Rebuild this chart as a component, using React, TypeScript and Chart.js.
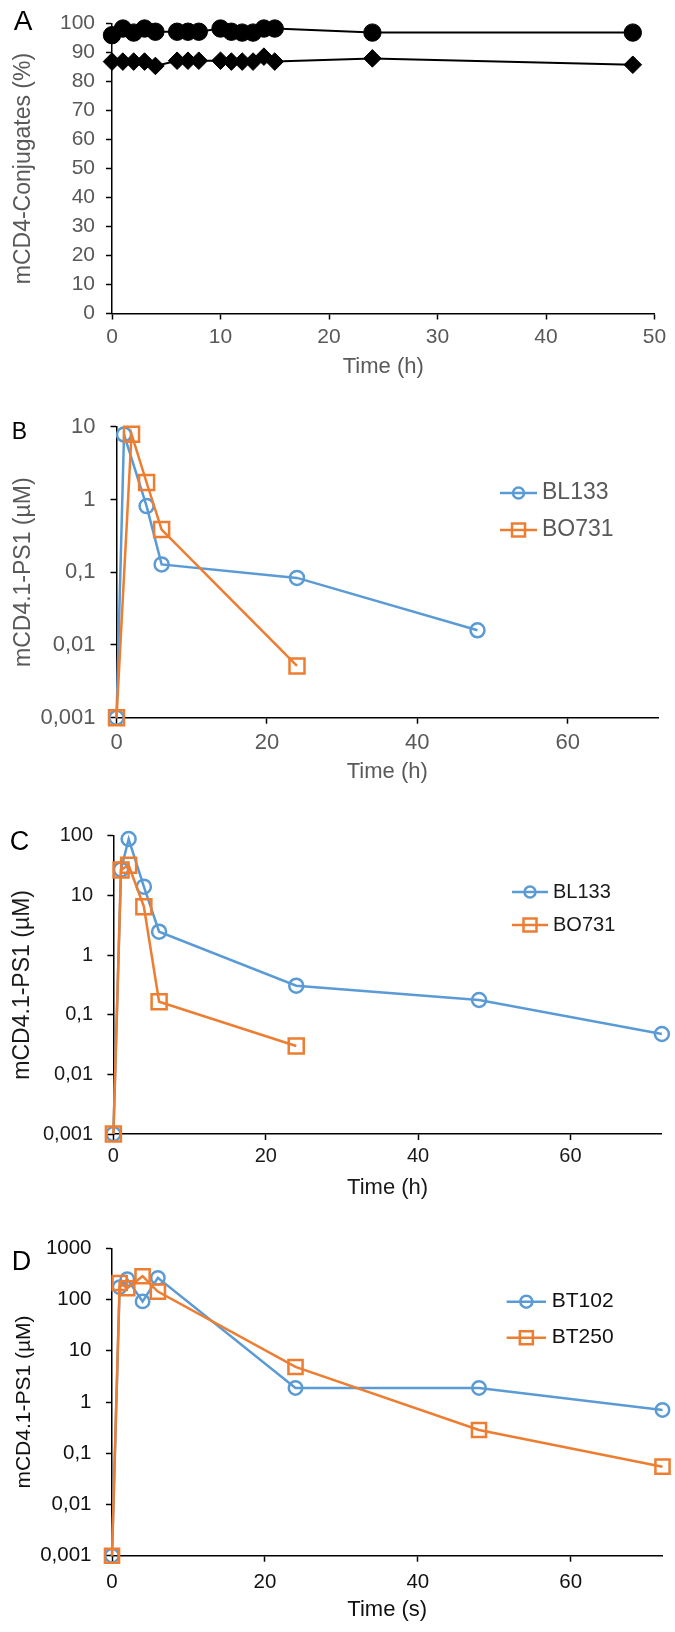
import React, { useEffect, useRef } from "react";
import { Chart, registerables } from "chart.js";

Chart.register(...registerables);

const SANS = "'Liberation Sans', Arial, Helvetica, sans-serif";
const NARROW = "'Liberation Sans Narrow', 'Arial Narrow', 'Liberation Sans', Arial, sans-serif";
const BLUE = "#5B9BD5";
const ORANGE = "#ED7D31";
const GRAY = "#595959";
const DARK = "#1a1a1a";

// ---------- Panel A ----------
const A_TIME = [0, 1, 2, 3, 4, 6, 7, 8, 10, 11, 12, 13, 14, 15, 24, 48];
const A_CIRCLES = [96.0, 98.3, 96.9, 98.3, 97.2, 97.2, 97.2, 97.2, 98.3, 97.2, 96.9, 96.9, 98.3, 98.3, 96.9, 96.9];
const A_DIAMONDS = [86.9, 86.9, 86.9, 86.9, 85.4, 87.2, 87.2, 87.2, 87.2, 86.9, 86.9, 86.9, 88.6, 86.9, 88.0, 85.8];
const A_X_TICKS = [0, 10, 20, 30, 40, 50];
const A_Y_TICKS = [0, 10, 20, 30, 40, 50, 60, 70, 80, 90, 100];
const A_Y_LABELS = ["0", "10", "20", "30", "40", "50", "60", "70", "80", "90", "100"];

// ---------- Panel B ----------
const B_BL133_TIME = [0, 1, 4, 6, 24, 48];
const B_BL133 = [0.001, 7.8, 0.81, 0.128, 0.0835, 0.0159];
const B_BO731_TIME = [0, 2, 4, 6, 24];
const B_BO731 = [0.001, 7.9, 1.71, 0.386, 0.00514];
const B_Y_TICKS = [0.001, 0.01, 0.1, 1, 10];
const B_Y_LABELS = ["0,001", "0,01", "0,1", "1", "10"];

// ---------- Panel C ----------
const C_BL133_TIME = [0, 1, 2, 4, 6, 24, 48, 72];
const C_BL133 = [0.001, 27, 88, 14, 2.46, 0.306, 0.176, 0.0474];
const C_BO731_TIME = [0, 1, 2, 4, 6, 24];
const C_BO731 = [0.001, 26.6, 32, 6.46, 0.165, 0.0299];
const C_Y_TICKS = [0.001, 0.01, 0.1, 1, 10, 100];
const C_Y_LABELS = ["0,001", "0,01", "0,1", "1", "10", "100"];

// ---------- Panel D ----------
const D_TIME = [0, 1, 2, 4, 6, 24, 48, 72];
const D_BT102 = [0.001, 175, 250, 92, 265, 1.88, 1.88, 0.7];
const D_BT250 = [0.001, 210, 166, 285, 143, 4.83, 0.284, 0.0547];
const D_Y_TICKS = [0.001, 0.01, 0.1, 1, 10, 100, 1000];
const D_Y_LABELS = ["0,001", "0,01", "0,1", "1", "10", "100", "1000"];

const TIME_TICKS = [0, 20, 40, 60];
const TIME_LABELS = ["0", "20", "40", "60"];

const pts = (xs: number[], ys: number[]) => xs.map((x, i) => ({ x, y: ys[i] }));

type Spec = {
  top: number;
  height: number;
  left: number;
  right: number;
  plotTop: number;
  plotBottom: number;
  xMax: number;
  xTicks: number[];
  xLabels: string[];
  xTitle: string;
  xTitleY: number;
  yType: "linear" | "logarithmic";
  yMin: number;
  yMax: number;
  yTicks: number[];
  yLabels: string[];
  yTitle: string;
  yTitleX: number;
  tickFamily: string;
  tickSize: number;
  tickColor: string;
  xTickPad: number;
  yTickPad: number;
  titleSize: number;
  yTitleSize: number;
  titleColor: string;
  letter: { text: string; x: number; y: number; size: number };
  legend?: { x1: number; x2: number; tx: number; y: number[]; size: number; color: string; circle: number; square: number };
  datasets: any[];
};

function lineSet(label: string, data: any[], color: string, style: string, radius: number, order: number) {
  return {
    label,
    data,
    borderColor: color,
    borderWidth: 2.5,
    pointStyle: style,
    pointRadius: radius,
    pointBorderColor: color,
    pointBackgroundColor: "rgba(255,255,255,0)",
    pointBorderWidth: 2.5,
    tension: 0,
    clip: false,
    order,
  };
}

const SPECS: Spec[] = [
  {
    top: 0, height: 390, left: 112, right: 654.5, plotTop: 15.5, plotBottom: 313.5,
    xMax: 50, xTicks: A_X_TICKS, xLabels: A_X_TICKS.map(String), xTitle: "Time (h)", xTitleY: 366.7,
    yType: "linear", yMin: 0, yMax: 100, yTicks: A_Y_TICKS, yLabels: A_Y_LABELS,
    yTitle: "mCD4-Conjugates (%)", yTitleX: 24,
    tickFamily: NARROW, tickSize: 21, tickColor: GRAY, xTickPad: 5, yTickPad: 11,
    titleSize: 22, yTitleSize: 23, titleColor: GRAY,
    letter: { text: "A", x: 23, y: 22, size: 28 },
    datasets: [
      {
        label: "Conjugate 1", data: pts(A_TIME, A_CIRCLES), borderColor: "#000", borderWidth: 2,
        pointStyle: "circle", pointRadius: 8.7, pointBackgroundColor: "#000", pointBorderColor: "#000",
        pointBorderWidth: 1, tension: 0, clip: false,
      },
      {
        label: "Conjugate 2", data: pts(A_TIME, A_DIAMONDS), borderColor: "#000", borderWidth: 2,
        pointStyle: "rectRot", pointRadius: 8.8, pointBackgroundColor: "#000", pointBorderColor: "#000",
        pointBorderWidth: 1, tension: 0, clip: false,
      },
    ],
  },
  {
    top: 390, height: 410, left: 116.5, right: 658, plotTop: 426.7, plotBottom: 717.7,
    xMax: 72, xTicks: TIME_TICKS, xLabels: TIME_LABELS, xTitle: "Time (h)", xTitleY: 772,
    yType: "logarithmic", yMin: 0.001, yMax: 10, yTicks: B_Y_TICKS, yLabels: B_Y_LABELS,
    yTitle: "mCD4.1-PS1 (µM)", yTitleX: 24,
    tickFamily: SANS, tickSize: 22, tickColor: GRAY, xTickPad: 6, yTickPad: 15,
    titleSize: 22, yTitleSize: 23, titleColor: GRAY,
    letter: { text: "B", x: 19.5, y: 433, size: 23 },
    legend: { x1: 500, x2: 537, tx: 542, y: [493, 530], size: 23, color: GRAY, circle: 5.5, square: 13 },
    datasets: [
      lineSet("BL133", pts(B_BL133_TIME, B_BL133), BLUE, "circle", 7, 1),
      lineSet("BO731", pts(B_BO731_TIME, B_BO731), ORANGE, "rect", 10.6, 0),
    ],
  },
  {
    top: 800, height: 410, left: 113.4, right: 664.5, plotTop: 835.7, plotBottom: 1134,
    xMax: 72, xTicks: TIME_TICKS, xLabels: TIME_LABELS, xTitle: "Time (h)", xTitleY: 1188,
    yType: "logarithmic", yMin: 0.001, yMax: 100, yTicks: C_Y_TICKS, yLabels: C_Y_LABELS,
    yTitle: "mCD4.1-PS1 (µM)", yTitleX: 22.7,
    tickFamily: SANS, tickSize: 20, tickColor: DARK, xTickPad: 4.7, yTickPad: 14.4,
    titleSize: 22, yTitleSize: 23, titleColor: DARK,
    letter: { text: "C", x: 19.5, y: 843, size: 27 },
    legend: { x1: 512, x2: 548, tx: 553, y: [892, 925], size: 20, color: DARK, circle: 5.5, square: 13 },
    datasets: [
      lineSet("BL133", pts(C_BL133_TIME, C_BL133), BLUE, "circle", 7, 1),
      lineSet("BO731", pts(C_BO731_TIME, C_BO731), ORANGE, "rect", 10.6, 0),
    ],
  },
  {
    top: 1210, height: 422, left: 112, right: 664.5, plotTop: 1248.3, plotBottom: 1555.7,
    xMax: 72, xTicks: TIME_TICKS, xLabels: TIME_LABELS, xTitle: "Time (s)", xTitleY: 1610,
    yType: "logarithmic", yMin: 0.001, yMax: 1000, yTicks: D_Y_TICKS, yLabels: D_Y_LABELS,
    yTitle: "mCD4.1-PS1 (µM)", yTitleX: 23.8,
    tickFamily: SANS, tickSize: 20.5, tickColor: "#111", xTickPad: 8, yTickPad: 14.5,
    titleSize: 22, yTitleSize: 21, titleColor: "#111",
    letter: { text: "D", x: 21.6, y: 1263, size: 27 },
    legend: { x1: 506.7, x2: 546, tx: 551.7, y: [1301.7, 1337.7], size: 21, color: "#111", circle: 6, square: 13 },
    datasets: [
      lineSet("BT102", pts(D_TIME, D_BT102), BLUE, "circle", 6.7, 1),
      lineSet("BT250", pts(D_TIME, D_BT250), ORANGE, "rect", 10, 0),
    ],
  },
];

function Panel({ spec }: { spec: Spec }) {
  const ref = useRef<HTMLCanvasElement | null>(null);

  useEffect(() => {
    const canvas = ref.current;
    if (!canvas) return;
    const s = spec;
    const tickLen = 6;
    const tickFont = { family: s.tickFamily, size: s.tickSize };
    const titleLH = s.titleSize * 1.2;
    const yTitleLH = s.yTitleSize * 1.2;

    const extras = {
      id: "extras",
      afterDraw(chart: any) {
        const ctx = chart.ctx as CanvasRenderingContext2D;
        ctx.save();
        ctx.font = `${s.letter.size}px ${SANS}`;
        ctx.fillStyle = "#000";
        ctx.textAlign = "center";
        ctx.textBaseline = "middle";
        ctx.fillText(s.letter.text, s.letter.x, s.letter.y - s.top);
        const G = s.legend;
        if (G) {
          chart.data.datasets.forEach((ds: any, i: number) => {
            const y = G.y[i] - s.top;
            ctx.strokeStyle = ds.borderColor;
            ctx.lineWidth = ds.borderWidth;
            ctx.beginPath();
            ctx.moveTo(G.x1, y);
            ctx.lineTo(G.x2, y);
            ctx.stroke();
            const cx = (G.x1 + G.x2) / 2;
            ctx.lineWidth = ds.pointBorderWidth;
            ctx.beginPath();
            if (ds.pointStyle === "rect") {
              const h = G.square / 2;
              ctx.rect(cx - h, y - h, G.square, G.square);
            } else {
              ctx.arc(cx, y, G.circle, 0, Math.PI * 2);
            }
            ctx.stroke();
            ctx.font = `${G.size}px ${SANS}`;
            ctx.fillStyle = G.color;
            ctx.textAlign = "left";
            ctx.textBaseline = "middle";
            ctx.fillText(ds.label, G.tx, y);
          });
        }
        ctx.restore();
      },
    };

    const chart = new Chart(canvas, {
      type: "line",
      data: { datasets: s.datasets },
      plugins: [extras],
      options: {
        responsive: false,
        maintainAspectRatio: false,
        animation: false,
        layout: { padding: { top: s.plotTop - s.top, right: 675 - s.right, bottom: 0, left: 0 } },
        plugins: { legend: { display: false }, tooltip: { enabled: false } },
        scales: {
          x: {
            type: "linear",
            position: "bottom",
            min: 0,
            max: s.xMax,
            afterFit: (sc: any) => {
              sc.height = s.top + s.height - s.plotBottom;
            },
            afterBuildTicks: (sc: any) => {
              sc.ticks = s.xTicks.map((v) => ({ value: v }));
            },
            ticks: {
              font: tickFont,
              color: s.tickColor,
              padding: s.xTickPad,
              maxRotation: 0,
              autoSkip: false,
              includeBounds: false,
              callback: (v: any) => {
                const i = s.xTicks.indexOf(Number(v));
                return i >= 0 ? s.xLabels[i] : null;
              },
            },
            grid: { drawOnChartArea: false, drawTicks: true, tickLength: tickLen, tickColor: "#000", tickWidth: 1.5 },
            border: { display: true, color: "#000", width: 1.5 },
            title: {
              display: true,
              text: s.xTitle,
              color: s.titleColor,
              font: { family: SANS, size: s.titleSize },
              padding: { top: 0, bottom: s.top + s.height - s.xTitleY - titleLH / 2 },
            },
          },
          y: {
            type: s.yType,
            position: "left",
            min: s.yMin,
            max: s.yMax,
            afterFit: (sc: any) => {
              sc.width = s.left;
            },
            afterBuildTicks: (sc: any) => {
              sc.ticks = s.yTicks.map((v) => ({ value: v }));
            },
            ticks: {
              font: tickFont,
              color: s.tickColor,
              padding: s.yTickPad,
              autoSkip: false,
              includeBounds: false,
              callback: (v: any) => {
                const i = s.yTicks.indexOf(Number(v));
                return i >= 0 ? s.yLabels[i] : null;
              },
            },
            grid: { drawOnChartArea: false, drawTicks: true, tickLength: tickLen, tickColor: "#000", tickWidth: 1.5 },
            border: { display: true, color: "#000", width: 1.5 },
            title: {
              display: true,
              text: s.yTitle,
              color: s.titleColor,
              font: { family: SANS, size: s.yTitleSize },
              padding: { top: s.yTitleX - yTitleLH / 2, bottom: 0 },
            },
          },
        },
      } as any,
    });
    return () => chart.destroy();
  }, [spec]);

  return (
    <canvas
      ref={ref}
      width={675}
      height={spec.height}
      style={{ position: "absolute", left: 0, top: spec.top, width: 675, height: spec.height }}
    />
  );
}

export default function App() {
  return (
    <div style={{ position: "absolute", left: 0, top: 0, width: 675, height: 1632, background: "#fff", overflow: "hidden" }}>
      {SPECS.map((s, i) => (
        <Panel key={i} spec={s} />
      ))}
    </div>
  );
}
